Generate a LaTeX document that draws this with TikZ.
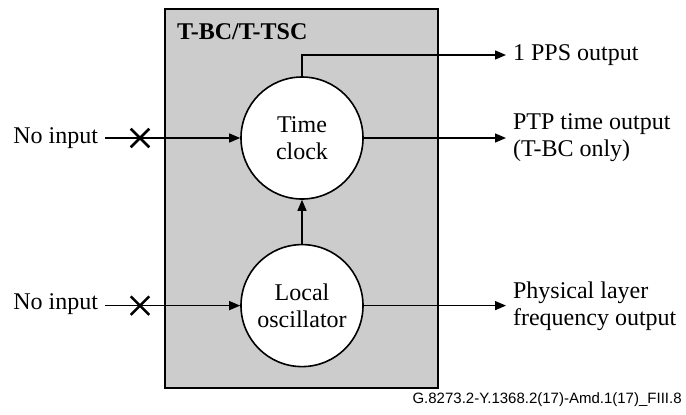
\documentclass[tikz,border=0pt]{standalone}
\usepackage{fontspec}
\setmainfont{Liberation Serif}
\newfontfamily\capfont{Liberation Sans}
\usetikzlibrary{positioning}
\usetikzlibrary{arrows.meta,shapes.misc}
\definecolor{boxgray}{HTML}{CCCCCC}

\begin{document}
\begin{tikzpicture}[x=0.5pt,y=-0.5pt,
  txt/.style={font=\fontsize{12}{13.5}\selectfont, align=left},
  clk/.style={circle, draw, line width=0.8pt, fill=white, minimum size=61pt, inner sep=0pt, align=center, font=\fontsize{12}{13.5}\selectfont},
  sig/.style={line width=0.7pt, -{Triangle[length=5.5pt,width=4.5pt]}},
  cut/.style={cross out, draw, line width=1.3pt, minimum size=8pt, inner sep=0pt}]
\useasboundingbox (0,0) rectangle (686,414);
\draw[line width=0.9pt, fill=boxgray] (165,9) rectangle (438,388);
\node[anchor=west, font=\bfseries\fontsize{12}{13.5}\selectfont] (title) at (170,32) {T-BC/T-TSC};
\node[clk] (tc) at (302,138) {Time\\clock};
\node[clk, below=22pt of tc] (lo) {Local\\oscillator};
\node[txt, anchor=east] (in1) at (105,138) {No input};
\node[txt, anchor=east] (in2) at (105,304) {No input};
\node[txt, anchor=west] (pps) at (506,55) {1 PPS output};
\node[txt, anchor=west] (ptp) at (506,138) {PTP time output\\(T-BC only)};
\node[txt, anchor=west] (phy) at (506,306) {Physical layer\\frequency output};
\draw[sig] (in1.east) -- (in1.east -| tc.west);
\draw[sig] (lo.west -| in2.east) -- (lo.west);
\node[cut] (x1) at (in1.east -| 140,0) {};
\node[cut] (x2) at (lo.west -| 140,0) {};
\draw[sig] (lo) -- (tc);
\draw[sig] (tc.north) |- (pps.west);
\draw[sig] (tc.east) -- (tc.east -| ptp.west);
\draw[sig] (lo.east) -- (lo.east -| phy.west);
\node[anchor=east, inner sep=1pt, font=\capfont\fontsize{7.5}{9}\selectfont] (fig) at (684,400) {G.8273.2-Y.1368.2(17)-Amd.1(17)\_FIII.8};
\end{tikzpicture}
\end{document}
